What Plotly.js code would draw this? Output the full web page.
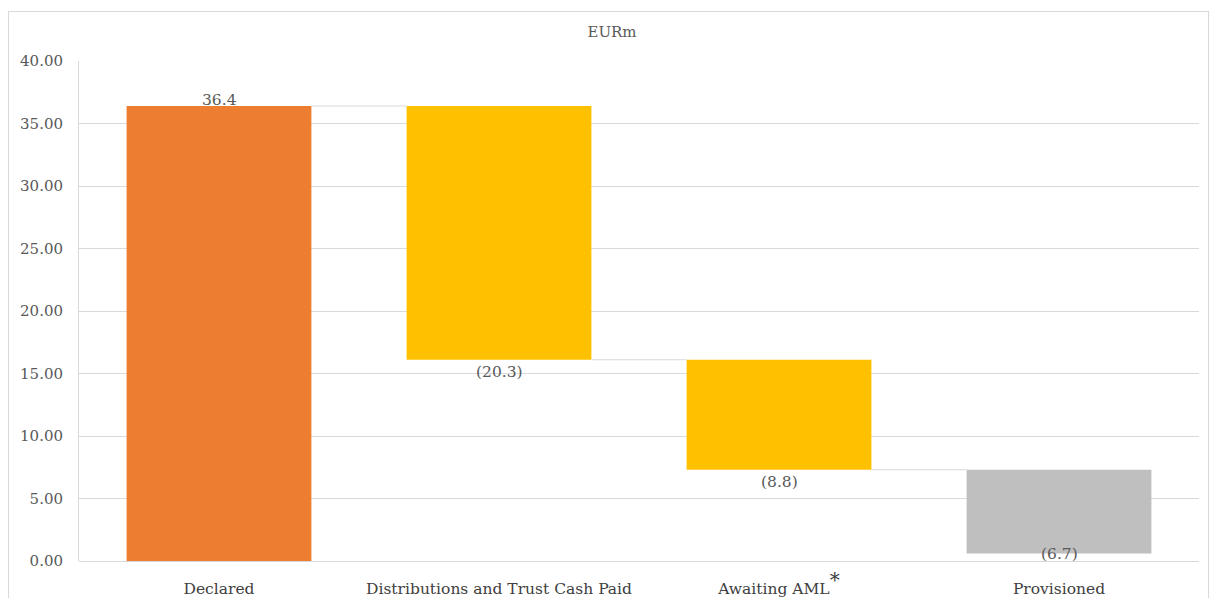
<!DOCTYPE html>
<html>
<head>
<meta charset="utf-8">
<script src="https://cdn.plot.ly/plotly-3.0.1.min.js"></script>
<style>
html,body{margin:0;padding:0;background:#fff;}
#wrap{position:relative;width:1210px;height:598px;}
#chart{width:1210px;height:598px;}
#frame{position:absolute;left:8px;top:11px;width:1199px;height:600px;border:1px solid #d9d9d9;pointer-events:none;}
</style>
</head>
<body>
<div id="wrap"><div id="chart"></div><div id="frame"></div></div>
<script>
// Data
const categories = ["Declared", "Distributions and Trust Cash Paid", "Awaiting AML<sup><span style='font-size:20px'>*</span></sup>", "Provisioned"];
const changes = [36.4, -20.3, -8.8, -6.7];
const labels = ["36.4", "(20.3)", "(8.8)", "(6.7)"];
const barColors = ["#ED7D31", "#FFC000", "#FFC000", "#BFBFBF"];
const yTicks = [0, 5, 10, 15, 20, 25, 30, 35, 40];

// Build waterfall bases from data
const bases = [], heights = [], tops = [], bottoms = [];
let run = 0;
changes.forEach((v, i) => {
  const start = run;
  const end = run + v;
  const lo = Math.min(start, end), hi = Math.max(start, end);
  bases.push(lo); heights.push(hi - lo);
  tops.push(hi); bottoms.push(lo);
  run = end;
});

const FONT = "DejaVu Serif, Georgia, serif";
const barW = 0.66;

const trace = {
  type: "bar",
  x: categories,
  y: heights,
  base: bases,
  width: barW,
  marker: {color: barColors, line: {width: 0}},
  hoverinfo: "skip",
  showlegend: false
};

// connectors
const shapes = [];
let level = 0;
for (let i = 0; i < changes.length - 1; i++) {
  level += changes[i];
  shapes.push({
    type: "line", xref: "x", yref: "y",
    x0: i + barW / 2, x1: i + 1 - barW / 2, y0: level, y1: level,
    line: {color: "#d9d9d9", width: 1}
  });
}

// labels
const annotations = changes.map((v, i) => {
  const pos = v >= 0;
  let yshift = pos ? -5 : -1;
  if (!pos && bottoms[i] < 2) yshift = 11;
  return {
    x: categories[i], y: pos ? tops[i] : bottoms[i], xref: "x", yref: "y",
    text: labels[i], showarrow: false,
    yanchor: pos ? "bottom" : "top", yshift: yshift,
    font: {family: FONT, size: 15.5, color: "#595959"}
  };
});

const layout = {
  width: 1210, height: 598,
  margin: {l: 79, r: 11, t: 61, b: 37},
  paper_bgcolor: "#fff", plot_bgcolor: "#fff",
  title: {text: "EURm", x: 612 / 1210, xref: "container", y: 1 - 32 / 598, yref: "container",
    xanchor: "center", yanchor: "middle", font: {family: FONT, size: 15, color: "#595959"}},
  bargap: 0.34,
  xaxis: {
    type: "category", showgrid: false, zeroline: false, showline: false,
    ticks: "", tickfont: {family: FONT, size: 15.5, color: "#404040"},
    ticklabelstandoff: 16, fixedrange: true
  },
  yaxis: {
    range: [0, 40], tickvals: yTicks, tickformat: ".2f",
    showgrid: true, gridcolor: "#d9d9d9", gridwidth: 1,
    zeroline: true, zerolinecolor: "#d9d9d9", zerolinewidth: 1,
    showline: true, linecolor: "#d9d9d9", linewidth: 1,
    ticks: "", ticklabelstandoff: 12,
    tickfont: {family: FONT, size: 15, color: "#595959"}, fixedrange: true
  },
  shapes: shapes,
  annotations: annotations
};

Plotly.newPlot("chart", [trace], layout, {displayModeBar: false, staticPlot: true});
</script>
</body>
</html>
